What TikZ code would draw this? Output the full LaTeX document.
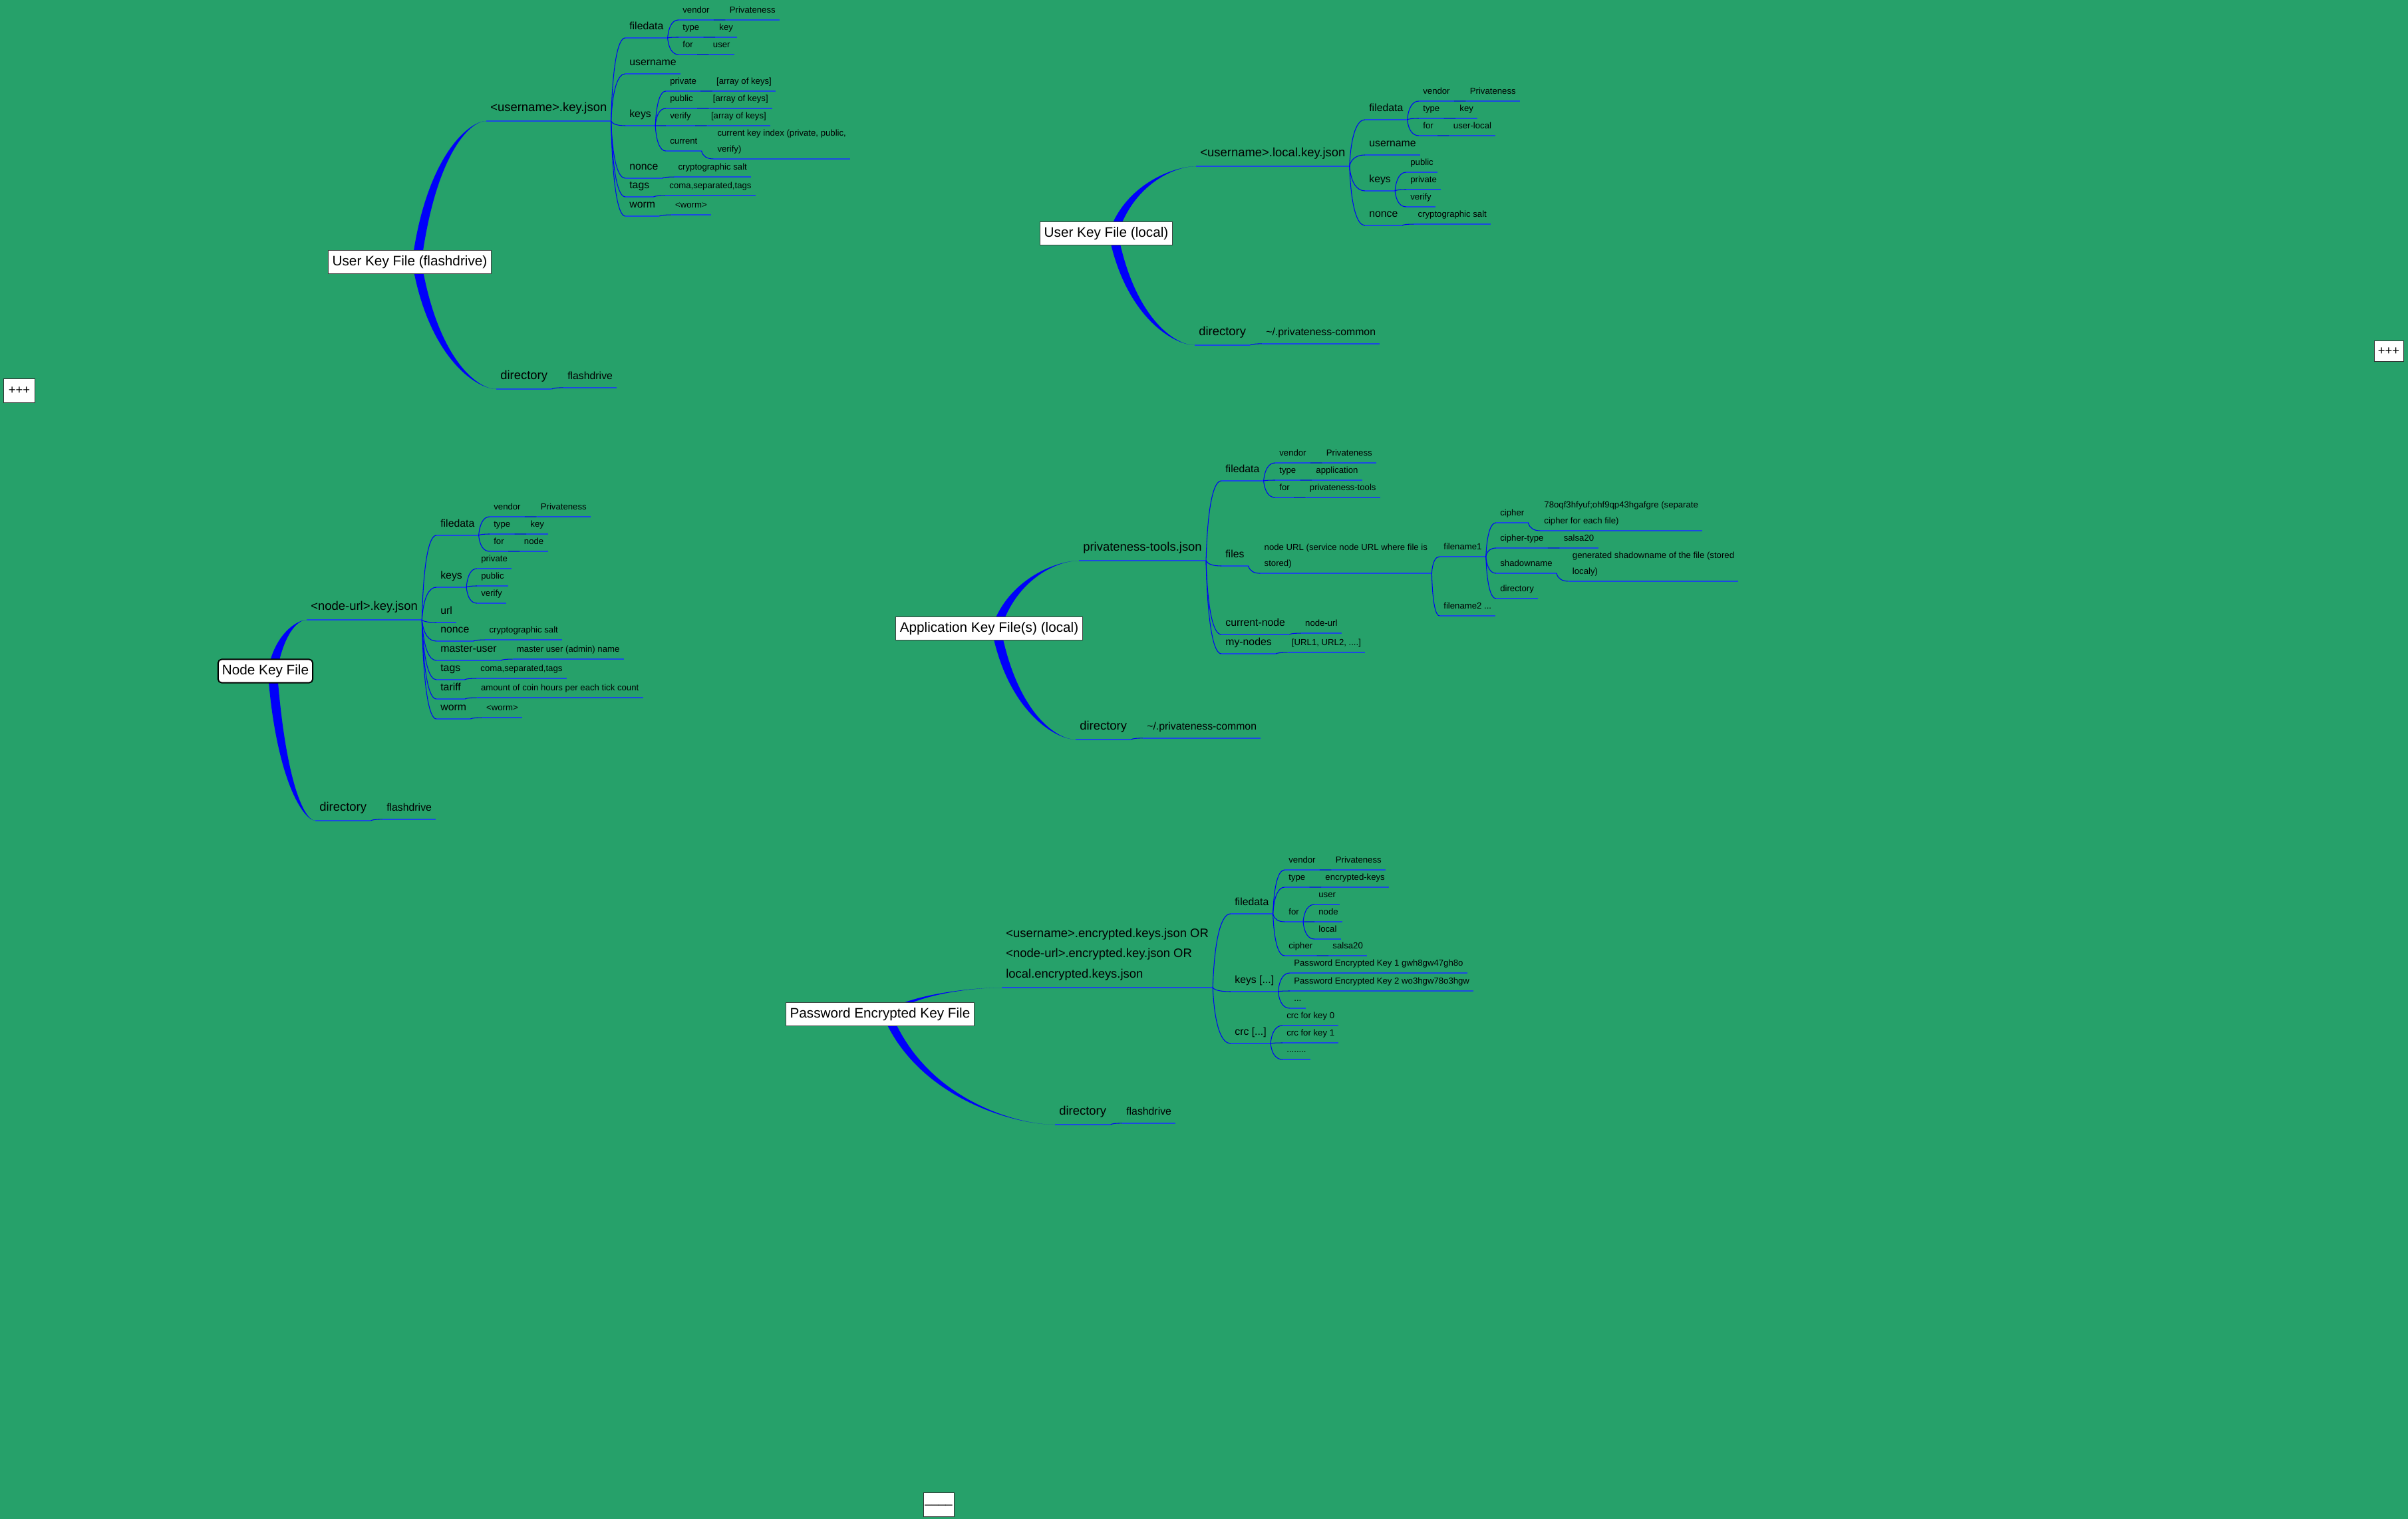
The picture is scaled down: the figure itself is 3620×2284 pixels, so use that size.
\documentclass[tikz,border=0pt]{standalone}
\usepackage{fontspec}
\setmainfont{Liberation Sans}
\usepackage{tikz}
\usetikzlibrary{positioning, calc}
\pgfdeclarelayer{background}
\pgfsetlayers{background,main}
\definecolor{mapgreen}{RGB}{38,161,106}
\definecolor{mapblue}{RGB}{0,0,250}
\definecolor{ruleblue}{RGB}{28,72,228}
% thick tapering branch from a topic box to a file node
\newcommand{\trunk}[2]{%
  \fill[mapblue] let \p1=([xshift=6pt]#1.center), \p2=(#2.south west),
      \n1={\x2-\x1}, \n2={\y2-\y1} in
    (\x1-4pt,\y1) .. controls (\x1+0.2*\n1-4pt,\y1+0.75*\n2) and (\x1+0.75*\n1,\y2) .. (\p2)
    .. controls (\x1+0.75*\n1,\y2) and (\x1+0.2*\n1+4pt,\y1+0.75*\n2) .. (\x1+4pt,\y1) -- cycle;}
% thin link from the end of one underline to the start of the next
\newcommand{\twig}[2]{%
  \draw[link] let \p1=(#1.south east), \p2=(#2.south west) in
    (\p1) .. controls (0.9*\x1+0.1*\x2,0.3*\y1+0.7*\y2) and (0.5*\x1+0.5*\x2,\y2) .. (\p2);}
\tikzset{
  link/.style={draw=mapblue, line width=0.6pt},
  rule line/.style={draw=ruleblue, line width=0.75pt},
  ul/.style={append after command={(\tikzlastnode.south west) edge[rule line] (\tikzlastnode.south east)}},
  topic/.style={draw=black!75, fill=white, font=\fontsize{11.8}{14}\selectfont, inner xsep=3.4pt, minimum height=20pt},
  mm/.style={anchor=south west, inner xsep=3.4pt, inner ysep=0pt, ul},
  lone/.style={mm, font=\fontsize{10.5}{17.5}\selectfont, execute at end node={\rule[-8pt]{0pt}{8pt}}},
  ltwo/.style={mm, font=\fontsize{9}{14}\selectfont, execute at end node={\rule[-6.8pt]{0pt}{6.8pt}}},
  lthree/.style={mm, font=\fontsize{7.5}{13.5}\selectfont, execute at end node={\rule[-5.7pt]{0pt}{5.7pt}}},
  tab/.style={draw=black!80, fill=white, font=\fontsize{10.5}{12}\selectfont, inner sep=0pt},
}

\begin{document}
\begin{tikzpicture}[x=0.02cm, y=-0.02cm]
  \useasboundingbox (0,0) rectangle (3620,2284);
  \begin{pgfonlayer}{background}
    \fill[mapgreen] (0,0) rectangle (3620,2284);
  \end{pgfonlayer}

  % user key file on the flashdrive
  \node[topic] (fl) at (616,394) {User Key File (flashdrive)};
  \node[lone] (fljson) at (731,182) {<username>.key.json};
  \node[lone] (fldir) at (746,585) {directory};
  \node[ltwo, base right=10pt of fldir] (fldirv) {flashdrive};
  \node[ltwo] (flfd) at (940,57) {filedata};
  \node[ltwo] (flun) at (940,111) {username};
  \node[ltwo] (flks) at (940,189) {keys};
  \node[ltwo] (flnc) at (940,268) {nonce};
  \node[ltwo] (fltg) at (940,296) {tags};
  \node[ltwo] (flwm) at (940,325) {worm};
  \node[lthree, base right=10pt of flnc] (flncv) {cryptographic salt};
  \node[lthree, base right=10pt of fltg] (fltgv) {coma,separated,tags};
  \node[lthree, base right=10pt of flwm] (flwmv) {<worm>};
  \node[lthree] (flven) at (1020,30) {vendor};
  \node[lthree] (fltyp) at (1020,56) {type};
  \node[lthree] (flfor) at (1020,82) {for};
  \node[lthree, base right=10pt of flven] (flvenv) {Privateness};
  \node[lthree, base right=10pt of fltyp] (fltypv) {key};
  \node[lthree, base right=10pt of flfor] (flforv) {user};
  \node[lthree] (flpri) at (1001,137) {private};
  \node[lthree] (flpub) at (1001,163) {public};
  \node[lthree] (flver) at (1001,189) {verify};
  \node[lthree] (flcur) at (1001,227) {current};
  \node[lthree, base right=10pt of flpri] (flpriv) {[array of keys]};
  \node[lthree, base right=10pt of flpub] (flpubv) {[array of keys]};
  \node[lthree, base right=10pt of flver] (flverv) {[array of keys]};
  \node[lthree, align=left] (flcurv) at ([xshift=10pt,yshift=-6.8pt]flcur.south east) {current key index (private, public,\\verify)};

  % user key file kept locally
  \node[topic] (lo) at (1663,351) {User Key File (local)};
  \node[lone] (lojson) at (1798,250) {<username>.local.key.json};
  \node[lone] (lodir) at (1796,519) {directory};
  \node[ltwo, base right=10pt of lodir] (lodirv) {\textasciitilde/.privateness-common};
  \node[ltwo] (lofd) at (2052,180) {filedata};
  \node[ltwo] (loun) at (2052,233) {username};
  \node[ltwo] (loks) at (2052,287) {keys};
  \node[ltwo] (lonc) at (2052,339) {nonce};
  \node[lthree, base right=10pt of lonc] (loncv) {cryptographic salt};
  \node[lthree] (loven) at (2133,152) {vendor};
  \node[lthree] (lotyp) at (2133,178) {type};
  \node[lthree] (lofor) at (2133,204) {for};
  \node[lthree, base right=10pt of loven] (lovenv) {Privateness};
  \node[lthree, base right=10pt of lotyp] (lotypv) {key};
  \node[lthree, base right=10pt of lofor] (loforv) {user-local};
  \node[lthree] (lopub) at (2114,259) {public};
  \node[lthree] (lopri) at (2114,285) {private};
  \node[lthree] (lover) at (2114,311) {verify};

  % node key file
  \node[topic, draw=black, line width=1.1pt, rounded corners=3pt] (nd) at (399,1009) {Node Key File};
  \node[lone] (ndjson) at (461,932) {<node-url>.key.json};
  \node[lone] (nddir) at (474,1234) {directory};
  \node[ltwo, base right=10pt of nddir] (nddirv) {flashdrive};
  \node[ltwo] (ndfd) at (656,805) {filedata};
  \node[ltwo] (ndks) at (656,883) {keys};
  \node[ltwo] (ndurl) at (656,936) {url};
  \node[ltwo] (ndnc) at (656,964) {nonce};
  \node[ltwo] (ndmu) at (656,993) {master-user};
  \node[ltwo] (ndtg) at (656,1022) {tags};
  \node[ltwo] (ndtf) at (656,1051) {tariff};
  \node[ltwo] (ndwm) at (656,1081) {worm};
  \node[lthree, base right=10pt of ndnc] (ndncv) {cryptographic salt};
  \node[lthree, base right=10pt of ndmu] (ndmuv) {master user (admin) name};
  \node[lthree, base right=10pt of ndtg] (ndtgv) {coma,separated,tags};
  \node[lthree, base right=10pt of ndtf] (ndtfv) {amount of coin hours per each tick count};
  \node[lthree, base right=10pt of ndwm] (ndwmv) {<worm>};
  \node[lthree] (ndven) at (736,777) {vendor};
  \node[lthree] (ndtyp) at (736,803) {type};
  \node[lthree] (ndfor) at (736,829) {for};
  \node[lthree, base right=10pt of ndven] (ndvenv) {Privateness};
  \node[lthree, base right=10pt of ndtyp] (ndtypv) {key};
  \node[lthree, base right=10pt of ndfor] (ndforv) {node};
  \node[lthree] (ndpri) at (717,855) {private};
  \node[lthree] (ndpub) at (717,881) {public};
  \node[lthree] (ndver) at (717,907) {verify};

  % application key files
  \node[topic] (ap) at (1487,945) {Application Key File(s) (local)};
  \node[lone] (apjson) at (1622,843) {privateness-tools.json};
  \node[lone] (apdir) at (1617,1112) {directory};
  \node[ltwo, base right=10pt of apdir] (apdirv) {\textasciitilde/.privateness-common};
  \node[ltwo] (apfd) at (1836,723) {filedata};
  \node[ltwo] (apfl) at (1836,851) {files};
  \node[ltwo] (apcn) at (1836,954) {current-node};
  \node[ltwo] (apmn) at (1836,983) {my-nodes};
  \node[lthree, align=left] (apflv) at ([xshift=10pt,yshift=-6.3pt]apfl.south east) {node URL (service node URL where file is\\stored)};
  \node[lthree, base right=10pt of apcn] (apcnv) {node-url};
  \node[lthree, base right=10pt of apmn] (apmnv) {[URL1, URL2, ....]};
  \node[lthree] (apven) at (1917,696) {vendor};
  \node[lthree] (aptyp) at (1917,722) {type};
  \node[lthree] (apfor) at (1917,748) {for};
  \node[lthree, base right=10pt of apven] (apvenv) {Privateness};
  \node[lthree, base right=10pt of aptyp] (aptypv) {application};
  \node[lthree, base right=10pt of apfor] (apforv) {privateness-tools};
  \node[lthree] (apfn1) at (2164,837) {filename1};
  \node[lthree] (apfn2) at (2164,926) {filename2 ...};
  \node[lthree] (apcip) at (2249,786) {cipher};
  \node[lthree] (apctp) at (2249,824) {cipher-type};
  \node[lthree] (apsha) at (2249,862) {shadowname};
  \node[lthree] (apdr) at (2249,900) {directory};
  \node[lthree, align=left] (apcipv) at ([xshift=10pt,yshift=-6.8pt]apcip.south east) {78oqf3hfyuf;ohf9qp43hgafgre (separate\\cipher for each file)};
  \node[lthree, base right=10pt of apctp] (apctpv) {salsa20};
  \node[lthree, align=left] (apshav) at ([xshift=10pt,yshift=-6.8pt]apsha.south east) {generated shadowname of the file (stored\\localy)};

  % password encrypted key file
  \node[topic] (pw) at (1323,1525) {Password Encrypted Key File};
  \node[lone, align=left] (pwjson) at (1506,1485) {<username>.encrypted.keys.json OR\\<node-url>.encrypted.key.json OR\\local.encrypted.keys.json};
  \node[lone] (pwdir) at (1586,1691) {directory};
  \node[ltwo, base right=10pt of pwdir] (pwdirv) {flashdrive};
  \node[ltwo] (pwfd) at (1850,1374) {filedata};
  \node[ltwo] (pwks) at (1850,1491) {keys [...]};
  \node[ltwo] (pwcrc) at (1850,1569) {crc [...]};
  \node[lthree] (pwven) at (1931,1308) {vendor};
  \node[lthree] (pwtyp) at (1931,1334) {type};
  \node[lthree] (pwfor) at (1931,1386) {for};
  \node[lthree] (pwcip) at (1931,1437) {cipher};
  \node[lthree, base right=10pt of pwven] (pwvenv) {Privateness};
  \node[lthree, base right=10pt of pwtyp] (pwtypv) {encrypted-keys};
  \node[lthree, base right=10pt of pwcip] (pwcipv) {salsa20};
  \node[lthree] (pwusr) at (1976,1360) {user};
  \node[lthree] (pwnod) at (1976,1386) {node};
  \node[lthree] (pwloc) at (1976,1412) {local};
  \node[lthree] (pwk1) at (1939,1463) {Password Encrypted Key 1 gwh8gw47gh8o};
  \node[lthree] (pwk2) at (1939,1490) {Password Encrypted Key 2 wo3hgw78o3hgw};
  \node[lthree] (pwk3) at (1939,1516) {...};
  \node[lthree] (pwc0) at (1928,1542) {crc for key 0};
  \node[lthree] (pwc1) at (1928,1568) {crc for key 1};
  \node[lthree] (pwc2) at (1928,1593) {........};

  % collapsed markers
  \node[tab, minimum width=27pt, minimum height=20.5pt] (foldleft) at (29,587) {+++};
  \node[tab, minimum width=25pt, minimum height=17.5pt] (foldright) at (3591,528) {+++};
  \node[tab, minimum width=26pt, minimum height=20.5pt] (foldbottom) at (1411,2262) {\_\_\_\_};

  \begin{pgfonlayer}{background}
    \foreach \root/\sub in {fl/fljson, fl/fldir, lo/lojson, lo/lodir, nd/ndjson, nd/nddir,
        ap/apjson, ap/apdir, pw/pwjson, pw/pwdir} {\trunk{\root}{\sub}}
  \end{pgfonlayer}

  \foreach \sub in {flfd,flun,flks,flnc,fltg,flwm} {\twig{fljson}{\sub}}
  \foreach \sub in {flven,fltyp,flfor} {\twig{flfd}{\sub}}
  \foreach \sub in {flpri,flpub,flver,flcur} {\twig{flks}{\sub}}
  \foreach \sub in {lofd,loun,loks,lonc} {\twig{lojson}{\sub}}
  \foreach \sub in {loven,lotyp,lofor} {\twig{lofd}{\sub}}
  \foreach \sub in {lopub,lopri,lover} {\twig{loks}{\sub}}
  \foreach \sub in {ndfd,ndks,ndurl,ndnc,ndmu,ndtg,ndtf,ndwm} {\twig{ndjson}{\sub}}
  \foreach \sub in {ndven,ndtyp,ndfor} {\twig{ndfd}{\sub}}
  \foreach \sub in {ndpri,ndpub,ndver} {\twig{ndks}{\sub}}
  \foreach \sub in {apfd,apfl,apcn,apmn} {\twig{apjson}{\sub}}
  \foreach \sub in {apven,aptyp,apfor} {\twig{apfd}{\sub}}
  \foreach \sub in {apfn1,apfn2} {\twig{apflv}{\sub}}
  \foreach \sub in {apcip,apctp,apsha,apdr} {\twig{apfn1}{\sub}}
  \foreach \sub in {pwfd,pwks,pwcrc} {\twig{pwjson}{\sub}}
  \foreach \sub in {pwven,pwtyp,pwfor,pwcip} {\twig{pwfd}{\sub}}
  \foreach \sub in {pwusr,pwnod,pwloc} {\twig{pwfor}{\sub}}
  \foreach \sub in {pwk1,pwk2,pwk3} {\twig{pwks}{\sub}}
  \foreach \sub in {pwc0,pwc1,pwc2} {\twig{pwcrc}{\sub}}
  % key/value pairs on one line
  \foreach \kk/\vv in {fldir/fldirv, flnc/flncv, fltg/fltgv, flwm/flwmv, flven/flvenv,
      fltyp/fltypv, flfor/flforv, flpri/flpriv, flpub/flpubv, flver/flverv, flcur/flcurv,
      lodir/lodirv, lonc/loncv, loven/lovenv, lotyp/lotypv, lofor/loforv,
      nddir/nddirv, ndnc/ndncv, ndmu/ndmuv, ndtg/ndtgv, ndtf/ndtfv, ndwm/ndwmv,
      ndven/ndvenv, ndtyp/ndtypv, ndfor/ndforv,
      apdir/apdirv, apfl/apflv, apcn/apcnv, apmn/apmnv, apven/apvenv, aptyp/aptypv,
      apfor/apforv, apcip/apcipv, apctp/apctpv, apsha/apshav,
      pwdir/pwdirv, pwven/pwvenv, pwtyp/pwtypv, pwcip/pwcipv} {\twig{\kk}{\vv}}
\end{tikzpicture}
\end{document}
